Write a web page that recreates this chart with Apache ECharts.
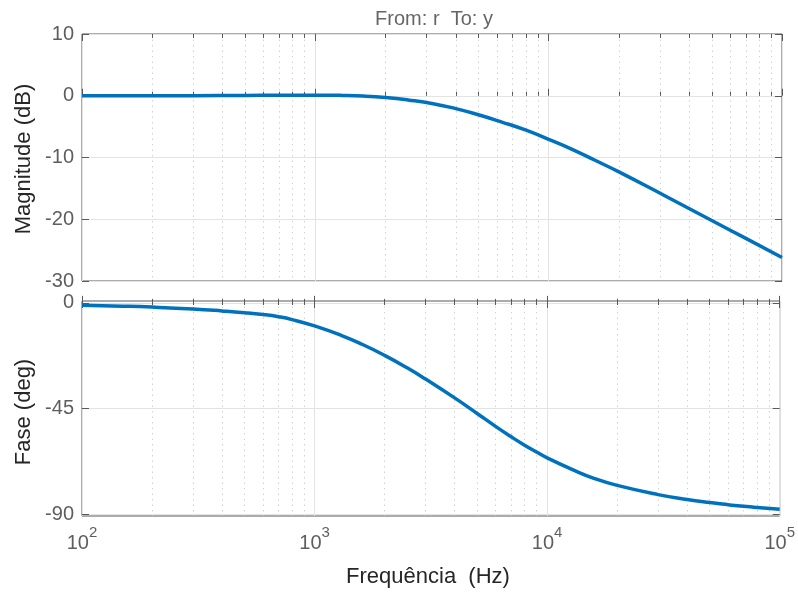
<!DOCTYPE html>
<html>
<head>
<meta charset="utf-8">
<script src="https://cdn.jsdelivr.net/npm/echarts@6/dist/echarts.min.js"></script>
<style>
  html, body { margin: 0; padding: 0; background: #ffffff; }
  #chart { width: 798px; height: 595px; }
</style>
</head>
<body>
<div id="chart"></div>
<script>
// Bode response, closed loop from r to y
const magFreq = [100, 200, 300, 500, 700, 1000, 1300, 1600, 2000, 2500, 3200, 4000, 5000, 6300, 8000, 10000,
                 12600, 15800, 20000, 31600, 50000, 70000, 100000];
const magDb   = [-0.02, -0.02, 0.0, 0.05, 0.09, 0.1, 0.06, -0.04, -0.28, -0.68, -1.28, -2.08, -3.08, -4.26,
                 -5.58, -7.06, -8.68, -10.45, -12.33, -16.23, -20.2, -23.1, -26.2];

const phaseFreq = [100, 150, 200, 300, 400, 500, 600, 700, 800, 1000, 1300, 1600, 2000, 2500, 3000, 4000, 5000,
                   6000, 7000, 8000, 9000, 10000, 13000, 16000, 20000, 30000, 40000, 50000, 60000, 70000, 80000, 100000];
const phaseDeg  = [-1.0, -1.4, -1.8, -2.6, -3.4, -4.15, -4.95, -5.9, -7.1, -9.8, -13.8, -17.6, -22.3, -27.6, -32.4,
                   -40.4, -47.0, -52.5, -56.9, -60.5, -63.4, -65.9, -71.1, -74.7, -77.6, -81.5, -83.6, -84.9,
                   -85.8, -86.5, -87.0, -87.7];

const decadeTicks = [100, 1000, 10000, 100000];
const minorTicks = [200, 300, 400, 500, 600, 700, 800, 900,
                    2000, 3000, 4000, 5000, 6000, 7000, 8000, 9000,
                    20000, 30000, 40000, 50000, 60000, 70000, 80000, 90000];
const magTicks = [-30, -20, -10, 0, 10];
const phaseTicks = [-90, -45, 0];

const titleText = 'From: r  To: y';
const magLabel = 'Magnitude (dB)';
const phaseLabel = 'Fase (deg)';
const freqLabel = 'Frequência  (Hz)';

const FONT = '"Liberation Sans", Arial, Helvetica, sans-serif';
const BOX = '#595959';
const TICK_TEXT = '#5e5e5e';
const LABEL_TEXT = '#262626';
const LINE = '#0072BD';

const chart = echarts.init(document.getElementById('chart'), null, { renderer: 'canvas' });

function xAxes(gridIndex, withLabels) {
  const base = {
    type: 'log', logBase: 10, min: 100, max: 100000, gridIndex: gridIndex,
    axisLine: { show: false }
  };
  return [
    // decade ticks and solid grid lines, bottom edge
    Object.assign({}, base, {
      position: 'bottom',
      axisTick: { show: true, inside: true, length: 7, customValues: decadeTicks,
                  lineStyle: { color: BOX, width: 1 } },
      axisLabel: withLabels ? {
        show: true, customValues: decadeTicks, margin: 9,
        formatter: v => '{b|10}{e|' + Math.round(Math.log10(v)) + '}',
        rich: {
          b: { fontFamily: FONT, fontSize: 20, color: TICK_TEXT, lineHeight: 28, verticalAlign: 'bottom' },
          e: { fontFamily: FONT, fontSize: 15, color: TICK_TEXT, lineHeight: 14, verticalAlign: 'top' }
        }
      } : { show: false },
      splitLine: { show: true, lineStyle: { color: '#e3e3e3', width: 1, type: 'solid' } }
    }),
    // minor ticks and dotted grid lines, bottom edge
    Object.assign({}, base, {
      position: 'bottom',
      axisTick: { show: true, inside: true, length: 4, customValues: minorTicks,
                  lineStyle: { color: BOX, width: 1 } },
      axisLabel: { show: false },
      splitLine: { show: true, lineStyle: { color: '#d2d2d2', width: 1, type: [1.5, 4] } }
    }),
    // decade ticks, top edge
    Object.assign({}, base, {
      position: 'top',
      axisTick: { show: true, inside: true, length: 7, customValues: decadeTicks,
                  lineStyle: { color: BOX, width: 1 } },
      axisLabel: { show: false }, splitLine: { show: false }
    }),
    // minor ticks, top edge
    Object.assign({}, base, {
      position: 'top',
      axisTick: { show: true, inside: true, length: 4, customValues: minorTicks,
                  lineStyle: { color: BOX, width: 1 } },
      axisLabel: { show: false }, splitLine: { show: false }
    })
  ];
}

function yAxes(gridIndex, min, max, ticks) {
  return [
    {
      type: 'value', gridIndex: gridIndex, min: min, max: max, position: 'left',
      axisLine: { show: false },
      axisTick: { show: true, inside: true, length: 7, customValues: ticks,
                  lineStyle: { color: BOX, width: 1 } },
      axisLabel: { show: true, customValues: ticks, margin: 8,
                   fontFamily: FONT, fontSize: 20, color: TICK_TEXT },
      splitLine: { show: true, lineStyle: { color: '#e3e3e3', width: 1 } }
    },
    {
      type: 'value', gridIndex: gridIndex, min: min, max: max, position: 'right',
      axisLine: { show: false },
      axisTick: { show: true, inside: true, length: 7, customValues: ticks,
                  lineStyle: { color: BOX, width: 1 } },
      axisLabel: { show: false },
      splitLine: { show: false }
    }
  ];
}

const option = {
  animation: false,
  backgroundColor: '#ffffff',
  grid: [
    { left: 82, top: 34, width: 700, height: 247, show: true, borderColor: BOX, borderWidth: 1,
      backgroundColor: 'transparent' },
    { left: 82, top: 301, width: 700, height: 215, show: true, borderColor: BOX, borderWidth: 1,
      backgroundColor: 'transparent' }
  ],
  xAxis: xAxes(0, false).concat(xAxes(1, true)),
  yAxis: yAxes(0, -30, 10, magTicks).concat(yAxes(1, -90.6, 0.8, phaseTicks)),
  graphic: [
    { type: 'text', x: 434, y: 19, style: { text: titleText, font: '20px ' + FONT, fill: '#666666',
      align: 'center', verticalAlign: 'middle' } },
    { type: 'text', x: 24, y: 159, rotation: Math.PI / 2, style: { text: magLabel, font: '22px ' + FONT,
      fill: LABEL_TEXT, align: 'center', verticalAlign: 'middle' } },
    { type: 'text', x: 24, y: 412, rotation: Math.PI / 2, style: { text: phaseLabel, font: '22px ' + FONT,
      fill: LABEL_TEXT, align: 'center', verticalAlign: 'middle' } },
    { type: 'text', x: 428, y: 577, style: { text: freqLabel, font: '22px ' + FONT,
      fill: LABEL_TEXT, align: 'center', verticalAlign: 'middle' } }
  ],
  series: [
    {
      type: 'line', xAxisIndex: 0, yAxisIndex: 0, smooth: 0.5,
      showSymbol: false, clip: true,
      data: magFreq.map((f, i) => [f, magDb[i]]),
      lineStyle: { color: LINE, width: 3.5 }, z: 5
    },
    {
      type: 'line', xAxisIndex: 4, yAxisIndex: 2, smooth: 0.5,
      showSymbol: false, clip: true,
      data: phaseFreq.map((f, i) => [f, phaseDeg[i]]),
      lineStyle: { color: LINE, width: 3.5 }, z: 5
    }
  ]
};

chart.setOption(option);
</script>
</body>
</html>
